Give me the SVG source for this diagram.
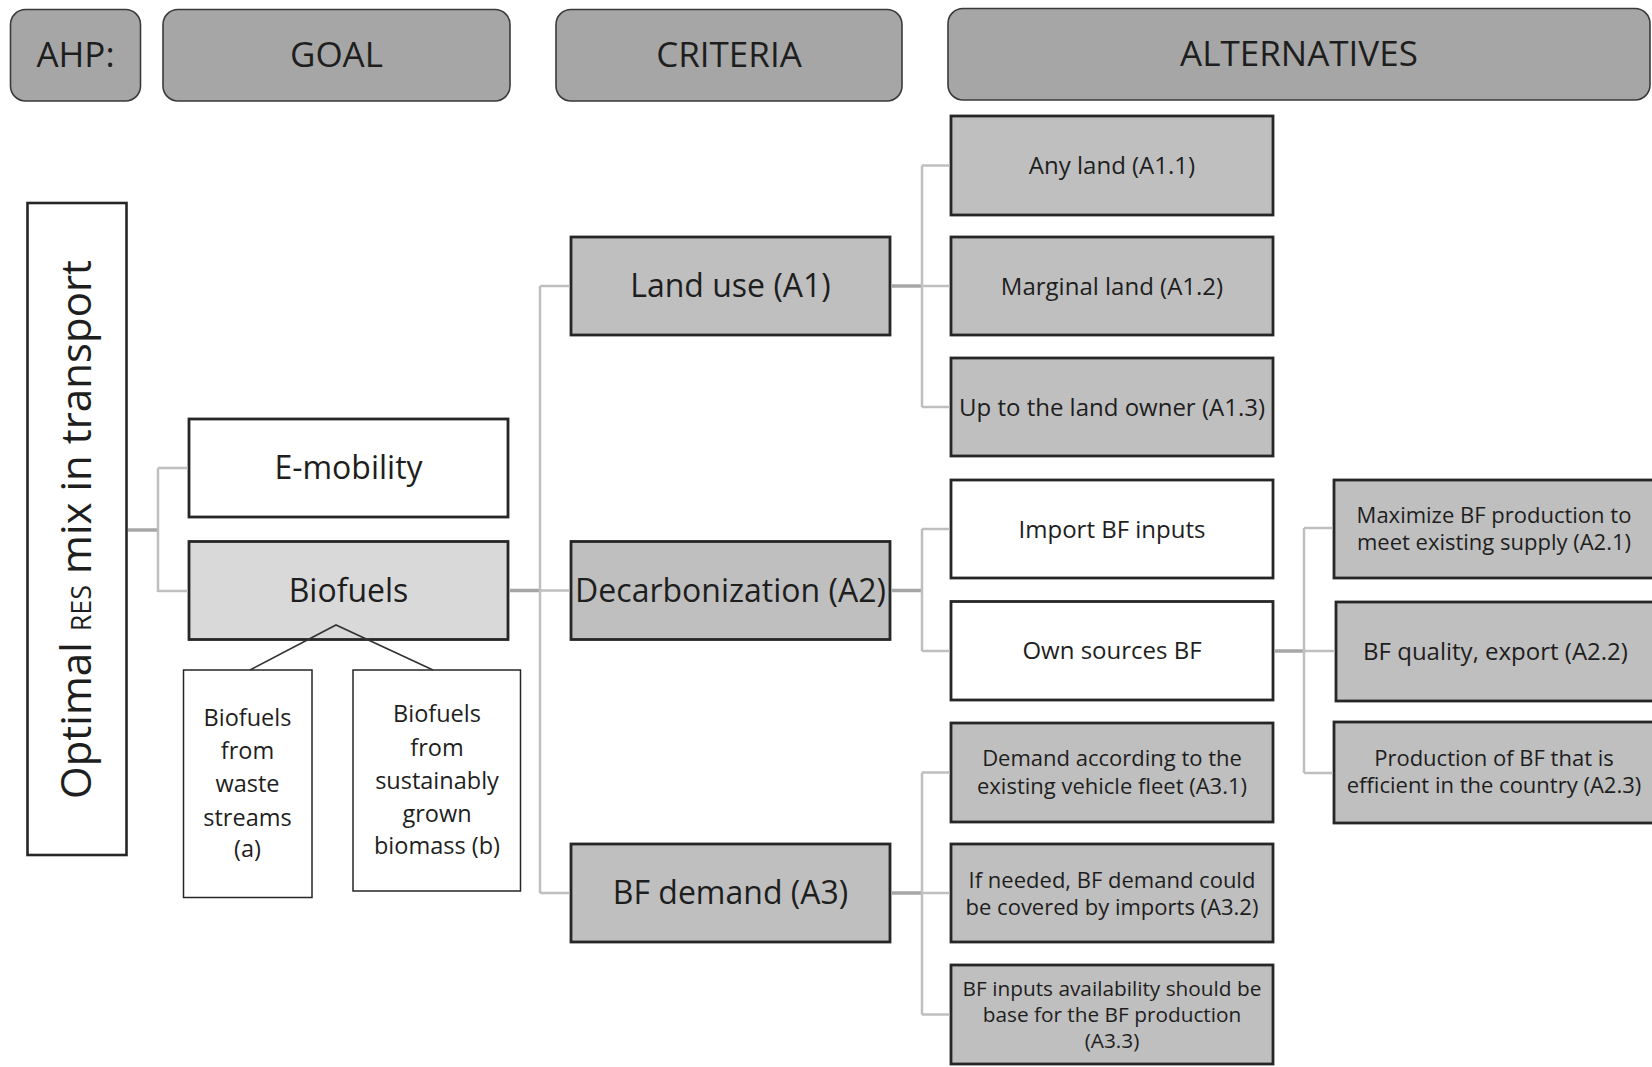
<svg xmlns="http://www.w3.org/2000/svg" width="1652" height="1067" viewBox="0 0 1652 1067">
<style>
text{font-family:"Open Sans","Noto Sans","Liberation Sans",sans-serif;fill:#1e1e1e;text-anchor:middle}
.hdr rect{fill:#a6a6a6;stroke:#3a3a3a;stroke-width:1.6}
.hdr text{font-size:35px}
.g rect{fill:#bfbfbf;stroke:#262626;stroke-width:2.8}
.w rect{fill:#ffffff;stroke:#262626;stroke-width:2.8}
.lg rect{fill:#d9d9d9;stroke:#262626;stroke-width:2.8}
.thin rect{fill:#ffffff;stroke:#262626;stroke-width:1.5}
.big text{font-size:32px}
.alt text{font-size:22px}
.alt text.one{font-size:24px}
.alt text.sm{font-size:20.8px}
.sub text{font-size:23.5px}
.conn path{fill:none;stroke:#bfbfbf;stroke-width:2.5}
.conn path.stub{stroke:#a6a6a6;stroke-width:3.5}
.conn path.tri{stroke:#333333;stroke-width:1.6}
</style>

<g id="hdr-ahp" class="hdr"><rect x="10.5" y="9.5" width="130" height="91.5" rx="15"/><text x="75.5" y="67">AHP:</text></g>
<g id="hdr-goal" class="hdr"><rect x="163" y="9.5" width="347" height="91.5" rx="15"/><text x="336.5" y="67">GOAL</text></g>
<g id="hdr-criteria" class="hdr"><rect x="556" y="9.5" width="346" height="91.5" rx="15"/><text x="729" y="67">CRITERIA</text></g>
<g id="hdr-alternatives" class="hdr"><rect x="948" y="8.5" width="702" height="91.5" rx="15"/><text x="1299" y="66">ALTERNATIVES</text></g>

<g id="goal-optimal"><rect x="27.5" y="203" width="99" height="652" fill="#ffffff" stroke="#262626" stroke-width="2.6"/>
  <text transform="translate(91,529.5) rotate(-90)" style="font-size:42px">Optimal <tspan style="font-size:27px">RES</tspan> mix in transport</text></g>

<g id="emobility" class="w big"><rect x="189" y="419" width="319" height="98"/><text x="348.5" y="479">E-mobility</text></g>
<g id="biofuels" class="lg big"><rect x="189" y="541.5" width="319" height="98"/><text x="348.5" y="601.5">Biofuels</text></g>

<g id="bio-waste" class="thin sub"><rect x="183.5" y="670" width="128.5" height="227.5"/>
  <text x="247.5" y="725.7">Biofuels</text><text x="247.5" y="759.2">from</text><text x="247.5" y="792.2">waste</text><text x="247.5" y="825.8">streams</text><text x="247.5" y="857.2">(a)</text></g>
<g id="bio-biomass" class="thin sub"><rect x="353" y="670" width="167.5" height="221"/>
  <text x="437" y="722">Biofuels</text><text x="437" y="756">from</text><text x="437" y="789">sustainably</text><text x="437" y="822">grown</text><text x="437" y="854">biomass (b)</text></g>

<g id="crit-a1" class="g big"><rect x="571" y="237" width="319" height="98"/><text x="730.5" y="297">Land use (A1)</text></g>
<g id="crit-a2" class="g big"><rect x="571" y="541.5" width="319" height="98"/><text x="730.5" y="601.5">Decarbonization (A2)</text></g>
<g id="crit-a3" class="g big"><rect x="571" y="844" width="319" height="98"/><text x="730.5" y="904">BF demand (A3)</text></g>

<g id="alt-a11" class="g alt"><rect x="951" y="116" width="322" height="99"/><text class="one" x="1112" y="174">Any land (A1.1)</text></g>
<g id="alt-a12" class="g alt"><rect x="951" y="237" width="322" height="98"/><text class="one" x="1112" y="294.5">Marginal land (A1.2)</text></g>
<g id="alt-a13" class="g alt"><rect x="951" y="358" width="322" height="98"/><text class="one" x="1112" y="415.5">Up to the land owner (A1.3)</text></g>
<g id="alt-import" class="w alt"><rect x="951" y="480" width="322" height="98"/><text class="one" x="1112" y="537.5">Import BF inputs</text></g>
<g id="alt-own" class="w alt"><rect x="951" y="601.5" width="322" height="98.5"/><text class="one" x="1112" y="659">Own sources BF</text></g>
<g id="alt-a31" class="g alt"><rect x="951" y="723" width="322" height="99"/><text x="1112" y="766">Demand according to the</text><text x="1112" y="793.5">existing vehicle fleet (A3.1)</text></g>
<g id="alt-a32" class="g alt"><rect x="951" y="844" width="322" height="98"/><text x="1112" y="887.7">If needed, BF demand could</text><text x="1112" y="914.7">be covered by imports (A3.2)</text></g>
<g id="alt-a33" class="g alt"><rect x="951" y="965" width="322" height="99"/><text class="sm" x="1112" y="995.5">BF inputs availability should be</text><text class="sm" x="1112" y="1022">base for the BF production</text><text class="sm" x="1112" y="1048">(A3.3)</text></g>

<g id="alt-a21" class="g alt"><rect x="1334" y="480" width="322" height="98"/><text x="1494" y="522.7">Maximize BF production to</text><text x="1494" y="550">meet existing supply (A2.1)</text></g>
<g id="alt-a22" class="g alt"><rect x="1336" y="602" width="322" height="99"/><text class="one" x="1495.5" y="660">BF quality, export (A2.2)</text></g>
<g id="alt-a23" class="g alt"><rect x="1334" y="722" width="322" height="101"/><text x="1494" y="766">Production of BF that is</text><text x="1494" y="793">efficient in the country (A2.3)</text></g>

<g id="connectors" class="conn">
  <path class="stub" d="M128,530 H158"/>
  <path d="M158,468 V592 M158,468 H187.5 M158,591 H187.5"/>
  <path class="stub" d="M509.5,590.5 H540"/>
  <path d="M540,286 V893 M540,286 H569.5 M540,590.5 H569.5 M540,893 H569.5"/>
  <path class="stub" d="M891.5,286 H922"/>
  <path d="M922,165.5 V407 M922,165.5 H949.5 M922,286 H949.5 M922,407 H949.5"/>
  <path class="stub" d="M891.5,590.5 H922"/>
  <path d="M922,529 V651 M922,529 H949.5 M922,651 H949.5"/>
  <path class="stub" d="M891.5,893 H922"/>
  <path d="M922,772.5 V1014.5 M922,772.5 H949.5 M922,893 H949.5 M922,1014.5 H949.5"/>
  <path class="stub" d="M1274.5,651 H1304"/>
  <path d="M1304,528 V773 M1304,528 H1332.5 M1304,651 H1334.5 M1304,773 H1332.5"/>
  <path class="tri" d="M250,670 L336,625 L433,670"/>
</g>
</svg>
